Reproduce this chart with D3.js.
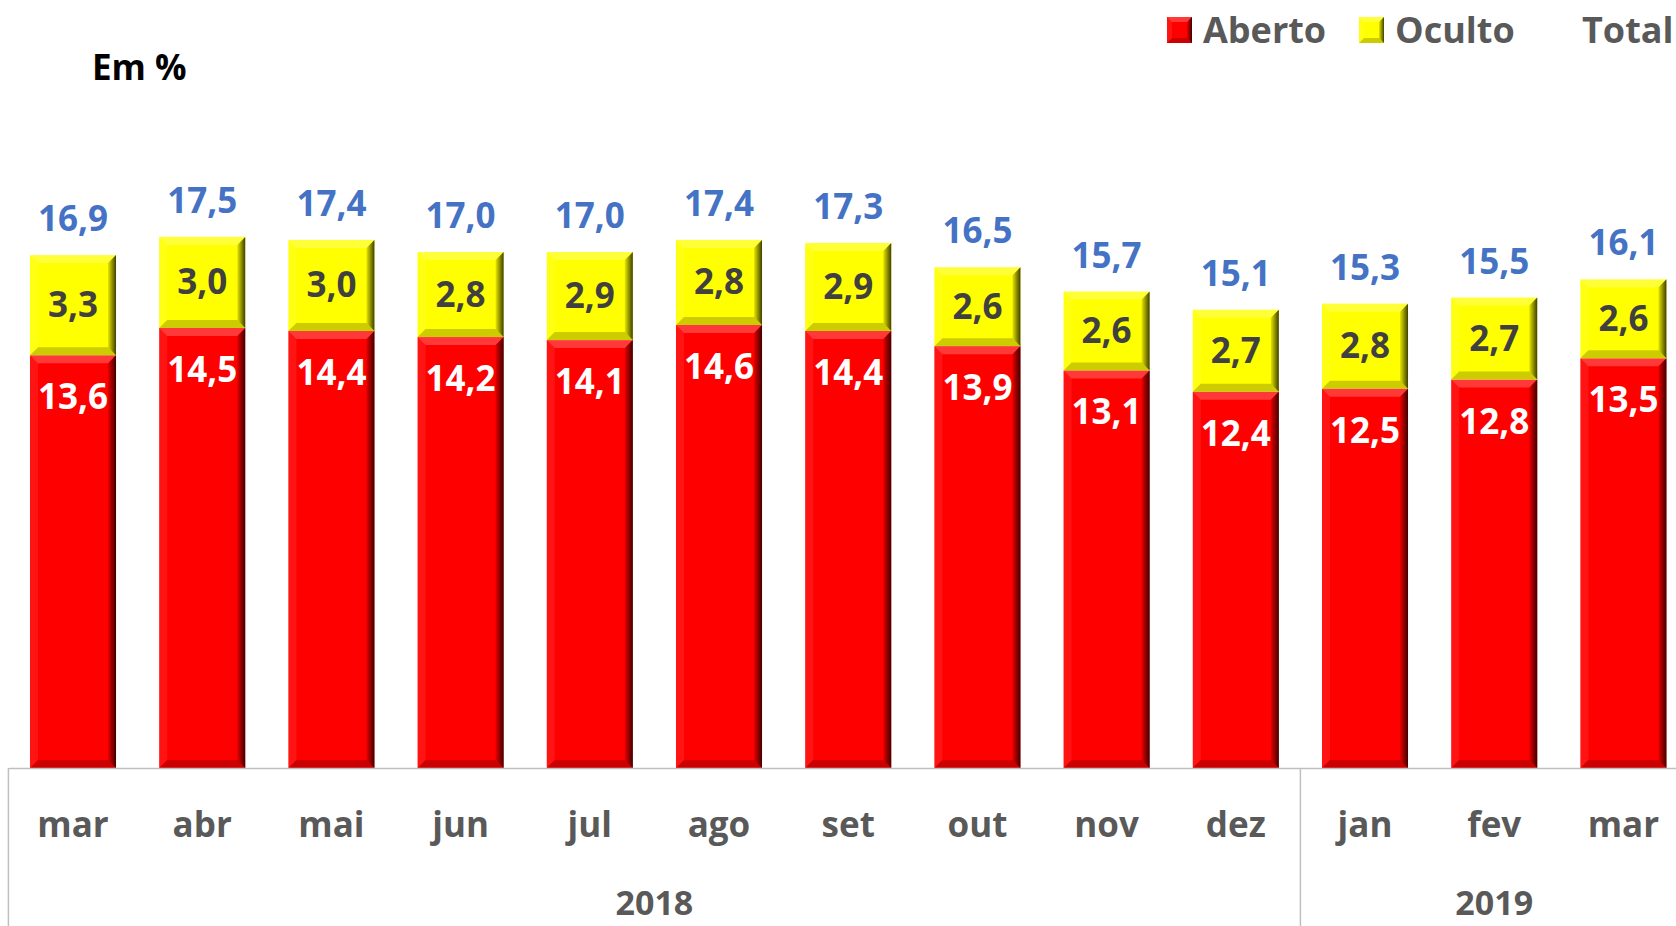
<!DOCTYPE html>
<html>
<head>
<meta charset="utf-8">
<script src="https://cdn.jsdelivr.net/npm/d3@7"></script>
<style>
  body { margin: 0; background: #fff; }
  text { font-family: "Open Sans", "Noto Sans", sans-serif; font-weight: bold; }
</style>
</head>
<body>
<script>
var w = 1676;
var h = 926;

var months = ["mar", "abr", "mai", "jun", "jul", "ago", "set", "out", "nov", "dez", "jan", "fev", "mar"];
var aberto = [13.6, 14.5, 14.4, 14.2, 14.1, 14.6, 14.4, 13.9, 13.1, 12.4, 12.5, 12.8, 13.5];
var oculto = [3.3, 3.0, 3.0, 2.8, 2.9, 2.8, 2.9, 2.6, 2.6, 2.7, 2.8, 2.7, 2.6];
var total = [16.9, 17.5, 17.4, 17.0, 17.0, 17.4, 17.3, 16.5, 15.7, 15.1, 15.3, 15.5, 16.1];
var years = ["2018", "2019"];
var yearCounts = [10, 3];

var fmt = function(v) { return v.toFixed(1).replace(".", ","); };

var svg = d3.select("body")
    .append("svg")
    .attr("width", w)
    .attr("height", h);

var defs = svg.append("defs");
var grad = defs.append("linearGradient")
    .attr("id", "rightShade")
    .attr("x1", "0").attr("x2", "1").attr("y1", "0").attr("y2", "0");
grad.append("stop").attr("offset", "0").attr("stop-color", "#000").attr("stop-opacity", 0.1);
grad.append("stop").attr("offset", "1").attr("stop-color", "#000").attr("stop-opacity", 0.75);

var xScale = d3.scaleBand()
    .domain(d3.range(months.length))
    .range([8.4, 1688])
    .paddingInner(0.334)
    .paddingOuter(0.167);

var yScale = d3.scaleLinear()
    .domain([0, 20])
    .range([768, 161]);

// draws a block with bevelled edges like the excel "relief" effect
function bevelRect(g, x, y, bw, bh, fill, b) {
    g.append("rect")
        .attr("x", x).attr("y", y)
        .attr("width", bw).attr("height", bh)
        .attr("fill", fill);
    var x2 = x + bw, y2 = y + bh;
    var pts = function(a) { return a.map(p => p.join(",")).join(" "); };
    // top
    g.append("polygon")
        .attr("points", pts([[x, y], [x2, y], [x2 - b, y + b], [x + b, y + b]]))
        .attr("fill", "#fff").attr("fill-opacity", 0.22);
    // left
    g.append("polygon")
        .attr("points", pts([[x, y], [x + b, y + b], [x + b, y2 - b], [x, y2]]))
        .attr("fill", "#fff").attr("fill-opacity", 0.08);
    // bottom
    g.append("polygon")
        .attr("points", pts([[x, y2], [x + b, y2 - b], [x2 - b, y2 - b], [x2, y2]]))
        .attr("fill", "#000").attr("fill-opacity", 0.2);
    // right
    g.append("polygon")
        .attr("points", pts([[x2, y], [x2, y2], [x2 - b, y2 - b], [x2 - b, y + b]]))
        .attr("fill", "url(#rightShade)");
}

var bars = svg.append("g");

months.forEach(function(m, i) {
    var x = xScale(i);
    var bw = xScale.bandwidth();
    var g = bars.append("g");
    // aberto (red)
    bevelRect(g, x, yScale(aberto[i]), bw, yScale(0) - yScale(aberto[i]), "#ff0000", 8);
    // oculto (yellow) stacked on top
    bevelRect(g, x, yScale(aberto[i] + oculto[i]), bw, yScale(aberto[i]) - yScale(aberto[i] + oculto[i]), "#ffff00", 8);
});

//labels
var labels = svg.append("g").attr("text-anchor", "middle").attr("font-size", 35);

labels.selectAll(".lblA")
    .data(aberto)
    .enter()
    .append("text")
    .attr("x", (d, i) => xScale(i) + xScale.bandwidth() / 2)
    .attr("y", d => yScale(d) + 54)
    .attr("fill", "#fff")
    .text(d => fmt(d));

labels.selectAll(".lblO")
    .data(oculto)
    .enter()
    .append("text")
    .attr("x", (d, i) => xScale(i) + xScale.bandwidth() / 2)
    .attr("y", (d, i) => (yScale(aberto[i]) + yScale(aberto[i] + d)) / 2 + 12)
    .attr("fill", "#404040")
    .text(d => fmt(d));

labels.selectAll(".lblT")
    .data(total)
    .enter()
    .append("text")
    .attr("x", (d, i) => xScale(i) + xScale.bandwidth() / 2)
    .attr("y", (d, i) => yScale(aberto[i] + oculto[i]) - 24)
    .attr("fill", "#4472c4")
    .text(d => fmt(d));

//axis
var xAxis = d3.axisBottom(xScale)
    .tickSize(0)
    .tickFormat(i => months[i]);

var axisG = svg.append("g")
    .attr("transform", "translate(0," + yScale(0) + ")")
    .call(xAxis);

axisG.select(".domain").attr("stroke", "#bfbfbf").attr("stroke-width", 1.5);
axisG.selectAll("text")
    .attr("y", 69)
    .attr("dy", 0)
    .attr("font-size", 35)
    .attr("font-family", "Open Sans, Noto Sans, sans-serif")
    .attr("font-weight", "bold")
    .attr("fill", "#595959");

// year groups
var start = 0;
years.forEach(function(y, k) {
    var x0 = xScale(start) - xScale.step() * xScale.paddingOuter();
    var end = start + yearCounts[k] - 1;
    var x1 = xScale(end) + xScale.bandwidth() + xScale.step() * xScale.paddingOuter();
    svg.append("line")
        .attr("x1", x0).attr("x2", x0)
        .attr("y1", yScale(0)).attr("y2", h)
        .attr("stroke", "#bfbfbf").attr("stroke-width", 1.5);
    svg.append("text")
        .attr("x", (x0 + x1) / 2)
        .attr("y", 915)
        .attr("text-anchor", "middle")
        .attr("font-size", 34)
        .attr("fill", "#595959")
        .text(y);
    start = end + 1;
});

//title
svg.append("text")
    .attr("x", 92)
    .attr("y", 80)
    .attr("font-size", 35)
    .attr("fill", "#000")
    .text("Em %");

//legend
var legend = svg.append("g").attr("font-size", 36).attr("fill", "#595959");
bevelRect(legend.append("g"), 1167, 17, 25, 26, "#ff0000", 5);
legend.append("text").attr("x", 1203).attr("y", 43).text("Aberto");
bevelRect(legend.append("g"), 1359, 17, 25, 26, "#ffff00", 5);
legend.append("text").attr("x", 1395).attr("y", 43).text("Oculto");
legend.append("text").attr("x", 1582).attr("y", 43).text("Total");
</script>
</body>
</html>
